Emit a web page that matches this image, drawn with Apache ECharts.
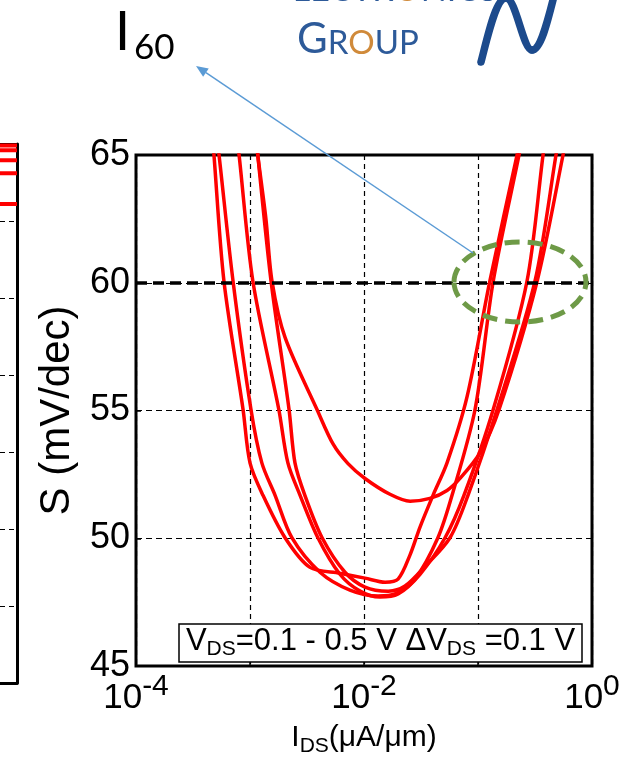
<!DOCTYPE html>
<html>
<head>
<meta charset="utf-8">
<script src="https://cdn.jsdelivr.net/npm/echarts@6/dist/echarts.min.js"></script>
<style>
  html, body { margin: 0; padding: 0; background: #fff; }
  #chart { width: 629px; height: 762px; }
</style>
</head>
<body>
<div id="chart"></div>
<script>
// Subthreshold swing S (mV/dec) against drain current I_DS (µA/µm),
// one curve per drain bias, V_DS = 0.1 ... 0.5 V.
// Each point: [I_DS, S]
const sweep1 = [[4.46e-4, 67.0], [4.83e-4, 65.0], [5.91e-4, 60.06], [8.69e-4, 55.04], [1.00e-3, 52.95],
  [1.30e-3, 51.68], [2.03e-3, 50.02], [3.36e-3, 48.86], [6.15e-3, 48.63],
  [1.02e-2, 48.44], [1.53e-2, 48.28], [1.99e-2, 48.40], [2.54e-2, 49.36], [3.10e-2, 50.44],
  [4.03e-2, 51.68], [5.35e-2, 52.95], [8.02e-2, 55.54], [0.127, 60.06], [0.220, 65.0], [0.275, 67.0]];
const sweep2 = [[4.73e-4, 67.0], [5.35e-4, 65.0], [7.10e-4, 60.06], [1.02e-3, 55.04], [1.27e-3, 52.95],
  [1.66e-3, 51.68], [2.33e-3, 50.02], [4.11e-3, 48.67], [7.53e-3, 47.97], [1.33e-2, 47.74], [1.87e-2, 47.82],
  [2.80e-2, 48.40], [4.45e-2, 50.02], [5.92e-2, 51.68], [9.42e-2, 55.04], [0.136, 60.06],
  [0.229, 65.0], [0.280, 67.0]];
const sweep3 = [[7.10e-4, 67.0], [8.02e-4, 65.0], [1.06e-3, 60.06], [1.79e-3, 55.04], [2.15e-3, 52.95],
  [2.75e-3, 51.68], [3.94e-3, 50.02], [6.15e-3, 48.59], [9.23e-3, 47.93], [1.38e-2, 47.70], [1.99e-2, 47.82],
  [3.10e-2, 48.59], [5.14e-2, 50.02], [7.53e-2, 51.68], [0.136, 55.04], [0.269, 60.06],
  [0.372, 65.0], [0.429, 67.0]];
const sweep4 = [[1.06e-3, 67.0], [1.17e-3, 65.0], [1.53e-3, 60.06], [2.20e-3, 55.04], [2.48e-3, 52.95],
  [3.03e-3, 51.68], [4.29e-3, 50.02], [6.81e-3, 48.67], [1.02e-2, 48.09], [1.63e-2, 47.93], [2.29e-2, 48.13],
  [3.43e-2, 48.90], [5.68e-2, 50.02], [8.17e-2, 51.68], [0.147, 55.04], [0.316, 60.06],
  [0.483, 65.0], [0.567, 67.0]];
const sweep5 = [[1.04e-3, 67.0], [1.17e-3, 65.0], [1.38e-3, 62.49], [1.56e-3, 60.06], [2.03e-3, 57.86],
  [3.87e-3, 55.04], [5.35e-3, 53.69], [7.24e-3, 52.92], [1.02e-2, 52.34],
  [1.69e-2, 51.72], [2.54e-2, 51.45], [3.79e-2, 51.56], [5.35e-2, 51.87], [6.95e-2, 52.34],
  [0.104, 53.34], [0.153, 55.04], [0.330, 60.06], [0.557, 65.0], [0.681, 67.0]];

// Y ticks of the S axis and the 60 mV/dec reference level
const sTicks = [45, 50, 55, 60, 65];
const sIdeal = 60;
// Decades of the current axis that carry a label
const labelledDecades = [-4, -2, 0];

// Neighbouring panel, only its right edge is in view: levels of its curves
const sidePanelLevels = [6.98, 6.92, 6.79, 6.62, 6.22];
const sidePanelX = [0.8, 1.0];

const FONT = '"Liberation Sans", Arial, Helvetica, sans-serif';
const LOGO_FONT = 'Lato, "Open Sans", sans-serif';
const FRAME = { show: true, lineStyle: { color: '#000', width: 3 } };

const chart = echarts.init(document.getElementById('chart'));

const sweeps = [sweep1, sweep2, sweep3, sweep4, sweep5];
const series = sweeps.map((d, i) => ({
  name: 'sweep' + (i + 1),
  type: 'line',
  xAxisIndex: 1,
  yAxisIndex: 1,
  data: d,
  smooth: 0.3,
  showSymbol: false,
  clip: true,
  lineStyle: { color: '#ff0000', width: 3.5 },
  z: 3
}));
// 60 mV/dec limit line
series[series.length - 1].markLine = {
  silent: true,
  symbol: 'none',
  label: { show: false },
  lineStyle: { color: '#000', width: 3.5, type: [11, 6] },
  data: [{ yAxis: sIdeal }]
};
sidePanelLevels.forEach(v => {
  series.push({
    type: 'line',
    xAxisIndex: 0,
    yAxisIndex: 0,
    data: sidePanelX.map(x => [x, v]),
    showSymbol: false,
    lineStyle: { color: '#ff0000', width: 4 },
    z: 3
  });
});

// Arrow from the ellipse to the I60 label
const tail = [473, 253], tip = [196, 66];
const dx = tip[0] - tail[0], dy = tip[1] - tail[1];
const len = Math.hypot(dx, dy), ux = dx / len, uy = dy / len;
const hl = 12, hw = 5;
const bx = tip[0] - hl * ux, by = tip[1] - hl * uy;
const head = [tip, [bx - hw * uy, by + hw * ux], [bx + hw * uy, by - hw * ux]];

// Logo wave, three cubic pieces
const waveStyle = { fill: 'none', stroke: '#1c4a8c', lineWidth: 7.5, lineCap: 'round' };
const wavePieces = [
  { x1: 481, y1: 62, cpx1: 488, cpy1: 35, cpx2: 496, cpy2: -2, x2: 506, y2: -2 },
  { x1: 506, y1: -2, cpx1: 516, cpy1: -2, cpx2: 523, cpy2: 50, x2: 532, y2: 50 },
  { x1: 532, y1: 50, cpx1: 541, cpy1: 50, cpx2: 548, cpy2: 20, x2: 555, y2: -8 }
];

const option = {
  animation: false,
  backgroundColor: '#fff',
  grid: [
    { left: 0, top: 144, width: 17, height: 539, show: false },
    { left: 136, top: 155, width: 456, height: 518, show: true, borderColor: '#000', borderWidth: 3, backgroundColor: 'rgba(0,0,0,0)' }
  ],
  xAxis: [
    { gridIndex: 0, type: 'value', min: 0.9, max: 1, position: 'bottom',
      axisLabel: { show: false }, axisTick: { show: false }, axisLine: FRAME, splitLine: { show: false } },
    { gridIndex: 1, type: 'log', logBase: 10, min: 1e-4, max: 1,
      axisLine: { show: false },
      axisTick: { show: true, inside: true, length: 5, lineStyle: { color: '#000', width: 1.5 } },
      splitLine: { show: true, lineStyle: { color: '#000', width: 1.2, type: [5, 4] } },
      axisLabel: {
        margin: 6,
        formatter: v => {
          const e = Math.round(Math.log10(v));
          return labelledDecades.includes(e) ? '{b|10}{s|' + e + '}' : '';
        },
        rich: {
          b: { fontFamily: FONT, fontSize: 35, color: '#000', lineHeight: 44, verticalAlign: 'bottom' },
          s: { fontFamily: FONT, fontSize: 30, color: '#000', verticalAlign: 'top' }
        }
      },
      name: '{i|I}{d|DS}{i|(μA/μm)}',
      nameLocation: 'middle',
      nameGap: 57,
      nameTextStyle: {
        rich: {
          i: { fontFamily: FONT, fontSize: 30, color: '#000', lineHeight: 34, verticalAlign: 'top' },
          d: { fontFamily: FONT, fontSize: 21, color: '#000', verticalAlign: 'bottom' }
        }
      }
    },
    { gridIndex: 0, type: 'value', min: 0.9, max: 1, position: 'top',
      axisLabel: { show: false }, axisTick: { show: false }, axisLine: FRAME, splitLine: { show: false } }
  ],
  yAxis: [
    { gridIndex: 0, type: 'value', min: 0, max: 7, interval: 1, position: 'right',
      axisLabel: { show: false }, axisTick: { show: false }, axisLine: FRAME,
      splitLine: { show: true, lineStyle: { color: '#000', width: 1.2, type: [5, 4] } } },
    { gridIndex: 1, type: 'value', min: sTicks[0], max: sTicks[sTicks.length - 1], interval: 5,
      axisLine: { show: false },
      axisTick: { show: true, inside: true, length: 5, lineStyle: { color: '#000', width: 1.5 } },
      splitLine: { show: true, lineStyle: { color: '#000', width: 1.2, type: [6, 4] } },
      axisLabel: { fontFamily: FONT, fontSize: 36, color: '#000', margin: 6 },
      name: 'S (mV/dec)',
      nameLocation: 'middle',
      nameRotate: 90,
      nameGap: 58,
      nameTextStyle: { fontFamily: FONT, fontSize: 42, color: '#000' }
    }
  ],
  series: series,
  graphic: [
    // bias range note
    { type: 'rect', shape: { x: 179, y: 624, width: 403, height: 38 },
      style: { fill: '#fff', stroke: '#000', lineWidth: 1.5 }, z: 10 },
    { type: 'text', x: 380.5, y: 643, z: 11,
      style: {
        text: '{v|V}{s|DS}{v|=0.1 - 0.5 V ΔV}{s|DS}{v| =0.1 V}',
        align: 'center', verticalAlign: 'middle',
        rich: {
          v: { fontFamily: FONT, fontSize: 31, fill: '#000', lineHeight: 34, verticalAlign: 'top' },
          s: { fontFamily: FONT, fontSize: 21, fill: '#000', verticalAlign: 'bottom' }
        }
      } },
    // I60 highlight
    { type: 'ellipse', shape: { cx: 520, cy: 282, rx: 66, ry: 40 }, z: 12,
      style: { fill: 'none', stroke: '#6e9a47', lineWidth: 5, lineDash: [15, 8] } },
    { type: 'line', shape: { x1: tail[0], y1: tail[1], x2: bx, y2: by }, z: 12,
      style: { stroke: '#5b9bd5', lineWidth: 1.5 } },
    { type: 'polygon', shape: { points: head }, z: 12, style: { fill: '#5b9bd5' } },
    { type: 'text', x: 115, y: 6, z: 12,
      style: { text: 'I', fontFamily: LOGO_FONT, fontSize: 54, fill: '#000', verticalAlign: 'top' } },
    { type: 'text', x: 134, y: 30, z: 12,
      style: { text: '60', fontFamily: LOGO_FONT, fontSize: 35, fill: '#000', verticalAlign: 'top' } },
    // group logo
    { type: 'text', x: 268, y: 7, z: 12,
      style: {
        text: '{b|E}{c|LECTR}{o|O}{c|NICS}', verticalAlign: 'bottom',
        rich: {
          b: { fontFamily: LOGO_FONT, fontSize: 43, fill: '#2d5a99', verticalAlign: 'bottom' },
          c: { fontFamily: LOGO_FONT, fontSize: 34, fill: '#2d5a99', verticalAlign: 'bottom' },
          o: { fontFamily: LOGO_FONT, fontSize: 34, fill: '#d08a3a', verticalAlign: 'bottom' }
        }
      } },
    { type: 'text', x: 297, y: 60, z: 12,
      style: {
        text: '{b|G}{c|R}{o|O}{c|UP}', verticalAlign: 'bottom',
        rich: {
          b: { fontFamily: LOGO_FONT, fontSize: 42, fill: '#2d5a99', verticalAlign: 'bottom' },
          c: { fontFamily: LOGO_FONT, fontSize: 33, fill: '#2d5a99', verticalAlign: 'bottom' },
          o: { fontFamily: LOGO_FONT, fontSize: 33, fill: '#d08a3a', verticalAlign: 'bottom' }
        }
      } }
  ].concat(wavePieces.map(p => ({ type: 'bezierCurve', shape: p, z: 12, style: waveStyle })))
};

chart.setOption(option);
</script>
</body>
</html>
